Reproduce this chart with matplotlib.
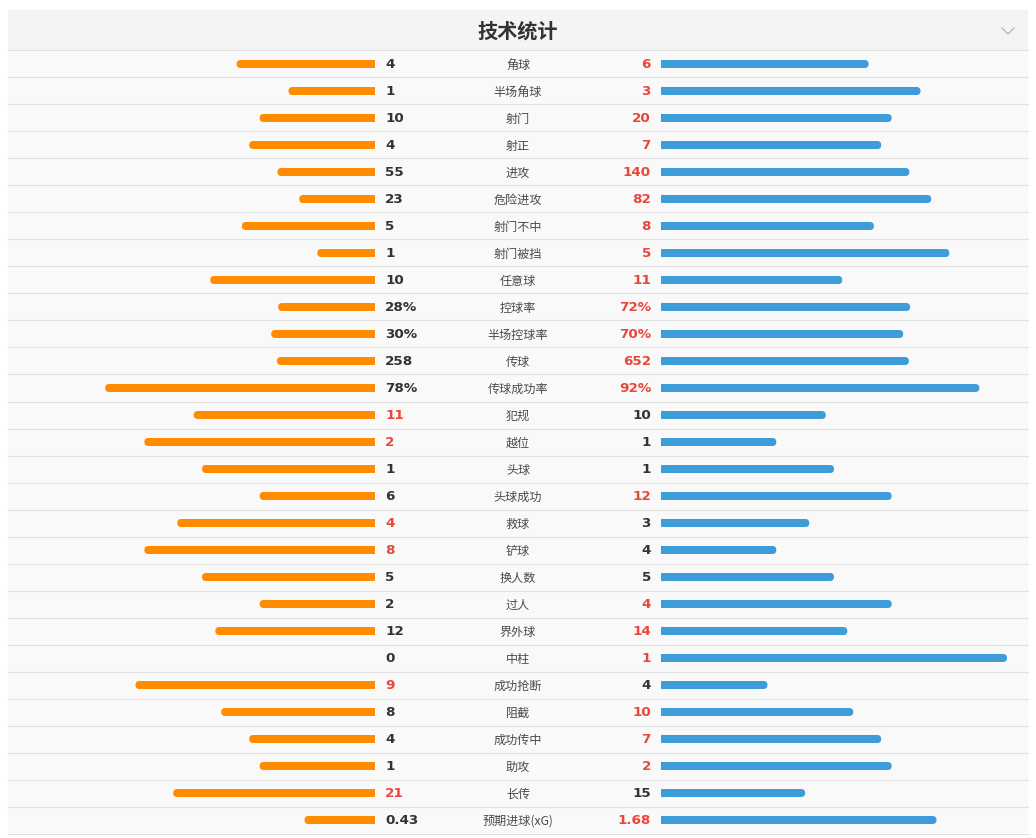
import matplotlib
matplotlib.use("Agg")
import matplotlib.pyplot as plt
from matplotlib.patches import Rectangle, FancyBboxPatch

plt.rcParams['font.family'] = ['Noto Sans CJK SC', 'DejaVu Sans']

title = "技术统计"
labels = ["角球", "半场角球", "射门", "射正", "进攻", "危险进攻", "射门不中", "射门被挡",
          "任意球", "控球率", "半场控球率", "传球", "传球成功率", "犯规", "越位", "头球",
          "头球成功", "救球", "铲球", "换人数", "过人", "界外球", "中柱", "成功抢断",
          "阻截", "成功传中", "助攻", "长传", "预期进球(xG)"]
home = ["4", "1", "10", "4", "55", "23", "5", "1", "10", "28%", "30%", "258", "78%", "11",
        "2", "1", "6", "4", "8", "5", "2", "12", "0", "9", "8", "4", "1", "21", "0.43"]
away = ["6", "3", "20", "7", "140", "82", "8", "5", "11", "72%", "70%", "652", "92%", "10",
        "1", "1", "12", "3", "4", "5", "4", "14", "1", "4", "10", "7", "2", "15", "1.68"]

ORANGE = "#ff8c00"
BLUE = "#3e9cd8"
RED = "#e8473a"
DARK = "#333333"
LABEL = "#4a4a4a"

W, H = 1036, 838
fig = plt.figure(figsize=(W / 100, H / 100), dpi=100)
ax = fig.add_axes([0, 0, 1, 1])
ax.set_xlim(0, W)
ax.set_ylim(H, 0)
ax.axis('off')

PX0, PX1 = 8, 1028
HEAD_TOP, HEAD_BOT = 10, 50
ROW_H = 27
n = len(labels)
ROW0 = HEAD_BOT + ROW_H / 2 + 0.5
bottom = HEAD_BOT + n * ROW_H

# panel backgrounds
ax.add_patch(Rectangle((PX0, HEAD_TOP), PX1 - PX0, HEAD_BOT - HEAD_TOP, color="#f4f4f4", zorder=0, lw=0))
ax.add_patch(Rectangle((PX0, HEAD_BOT), PX1 - PX0, bottom - HEAD_BOT, color="#f9f9f9", zorder=0, lw=0))
for i in range(n + 1):
    y = HEAD_BOT + i * ROW_H + 0.5
    ax.plot([PX0, PX1], [y, y], color="#e0e0e0", lw=0.75, zorder=1)

ax.text((PX0 + PX1) / 2, (HEAD_TOP + HEAD_BOT) / 2 + 1, title, ha='center', va='center',
        fontsize=14.5, fontweight='bold', color=DARK)
# chevron
ax.plot([1002, 1008, 1014], [28, 34, 28], color="#b0b0b0", lw=0.9)

L_IN, R_IN = 375, 661
BAR_MAX = 346
BAR_H = 8
R = BAR_H / 2


def num(s):
    return float(s.rstrip('%'))


def rounded(x0, y, length, color):
    ax.add_patch(FancyBboxPatch((x0, y - R), length, BAR_H,
                                boxstyle=f"round,pad=0,rounding_size={R}",
                                fc=color, ec='none', lw=0, zorder=2))


for i, (lab, a, b) in enumerate(zip(labels, home, away)):
    y = ROW0 + i * ROW_H
    va, vb = num(a), num(b)
    if a.endswith('%') and b.endswith('%'):
        fa, fb = va / 100, vb / 100
    else:
        tot = va + vb
        fa, fb = (va / tot, vb / tot) if tot else (0, 0)
    la, lb = fa * BAR_MAX, fb * BAR_MAX
    if la > 0:
        rounded(L_IN - la, y, la, ORANGE)
        ax.barh(y, -(la - R), left=L_IN, height=BAR_H, color=ORANGE, lw=0, zorder=3)
    if lb > 0:
        rounded(R_IN, y, lb, BLUE)
        ax.barh(y, lb - R, left=R_IN, height=BAR_H, color=BLUE, lw=0, zorder=3)
    ca = RED if va > vb else DARK
    cb = RED if vb > va else DARK
    ax.text(385, y + 0.5, a, ha='left', va='center', fontsize=9.7, fontweight='bold',
            color=ca, family='DejaVu Sans')
    ax.text(651, y + 0.5, b, ha='right', va='center', fontsize=9.7, fontweight='bold',
            color=cb, family='DejaVu Sans')
    ax.text(518, y + 1, lab, ha='center', va='center', fontsize=8.7, color=LABEL)

fig.savefig("out.png", dpi=100, facecolor="white")
